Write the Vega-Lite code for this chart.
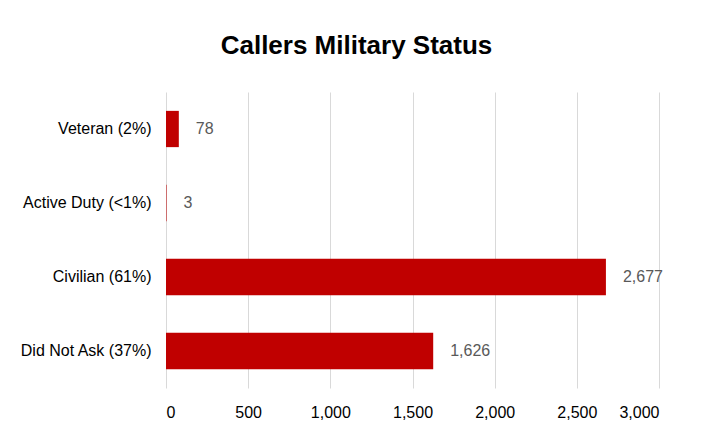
{
  "$schema": "https://vega.github.io/schema/vega-lite/v6.json",
  "autosize": "none",
  "width": 493,
  "height": 296,
  "padding": {"left": 166, "top": 92, "right": 43, "bottom": 46},
  "background": "white",
  "title": {
    "text": "Callers Military Status",
    "font": "Liberation Sans",
    "fontSize": 26,
    "fontWeight": "bold",
    "color": "#000000",
    "anchor": "middle",
    "dx": -56,
    "offset": 33
  },
  "data": {
    "values": [
      {"status": "Veteran (2%)", "count": 78},
      {"status": "Active Duty (<1%)", "count": 3},
      {"status": "Civilian (61%)", "count": 2677},
      {"status": "Did Not Ask (37%)", "count": 1626}
    ]
  },
  "encoding": {
    "y": {
      "field": "status",
      "type": "nominal",
      "sort": null,
      "scale": {"paddingInner": 0.51, "paddingOuter": 0.255},
      "axis": {
        "title": null,
        "domain": false,
        "ticks": false,
        "labelFont": "Liberation Sans",
        "labelFontSize": 16,
        "labelColor": "#000000",
        "labelPadding": 15
      }
    },
    "x": {
      "field": "count",
      "type": "quantitative",
      "scale": {"domain": [0, 3000], "nice": false},
      "axis": {
        "title": null,
        "values": [0, 500, 1000, 1500, 2000, 2500, 3000],
        "format": ",d",
        "domain": false,
        "ticks": false,
        "grid": true,
        "gridColor": "#d9d9d9",
        "gridWidth": 1,
        "labelFont": "Liberation Sans",
        "labelFontSize": 16,
        "labelColor": "#000000",
        "labelPadding": 16
      }
    }
  },
  "layer": [
    {
      "mark": {"type": "bar", "color": "#C00000"}
    },
    {
      "mark": {
        "type": "text",
        "align": "left",
        "dx": 17,
        "font": "Liberation Sans",
        "fontSize": 16,
        "color": "#595959"
      },
      "encoding": {
        "text": {"field": "count", "type": "quantitative", "format": ",d"}
      }
    }
  ],
  "config": {
    "view": {"stroke": null}
  }
}
